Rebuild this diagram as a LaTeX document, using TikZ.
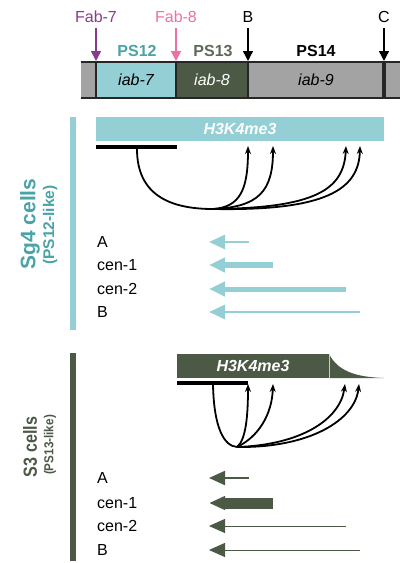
\documentclass[tikz,border=0pt]{standalone}
\usepackage{fontspec}
\usepackage{graphicx}
\setmainfont{Liberation Sans}
\usetikzlibrary{arrows.meta}
\definecolor{tealbar}{HTML}{93CFD4}
\definecolor{tealtxt}{HTML}{4AA3A6}
\definecolor{olivebar}{HTML}{4B5945}
\definecolor{olivetxt}{HTML}{5B6B58}
\definecolor{graybar}{HTML}{A3A3A3}
\definecolor{darkline}{HTML}{262626}
\definecolor{fabpurple}{HTML}{8A3A8C}
\definecolor{fabpink}{HTML}{EC6FA9}
\begin{document}
\begin{tikzpicture}[x=1pt,y=-1pt,
  txt/.style={font=\fontsize{16}{18}\selectfont, inner sep=0pt},
  toplab/.style={font=\fontsize{16}{18}\selectfont, inner xsep=1pt, inner ysep=5pt, text height=11.5pt, text depth=0pt},
  pslab/.style={font=\fontsize{16}{18}\selectfont\bfseries, inner sep=0pt},
  iablab/.style={font=\fontsize{16}{18}\selectfont\itshape, inner sep=0pt},
  topar/.style={line width=1.4pt, -{Triangle[length=10pt,width=10pt]}},
  hbar/.style={rectangle, inner sep=0pt, text=white, font=\fontsize{16}{18}\selectfont\bfseries\itshape},
  loop/.style={line width=1.8pt, -{Stealth[length=8pt,width=6pt]}},
  rowlab/.style={font=\fontsize{16}{18}\selectfont, anchor=west, inner sep=0pt},
  rowar/.style={-{Triangle[length=16pt,width=14pt]}},
  divider/.style={darkline, line width=2pt},
]
\useasboundingbox (0,0) rectangle (400,563);

% ---------- top locus bar ----------
\fill[graybar] (81,61) rectangle (400,99);
\fill[tealbar] (96,61) rectangle (176,99);
\fill[olivebar] (176,61) rectangle (248,99);
\draw[darkline, line width=2.5pt] (81,62) -- (400,62);
\draw[darkline, line width=2.5pt] (81,98) -- (400,98);
\draw[divider] (96,61) -- (96,99);
\draw[divider] (176,61) -- (176,99);
\draw[divider] (248,61) -- (248,99);
\draw[darkline, line width=4pt] (384,61) -- (384,99);

\node[iablab] (iab7) at (136,80) {iab-7};
\node[iablab, text=white] (iab8) at (212,80) {iab-8};
\node[iablab] (iab9) at (316,80) {iab-9};

\node[pslab, text=tealtxt] (ps12) at (137,51) {PS12};
\node[pslab, text=olivetxt] (ps13) at (213,51) {PS13};
\node[pslab] (ps14) at (316,51) {PS14};

\node[toplab, text=fabpurple] (fab7) at (96,17) {Fab-7};
\node[toplab, text=fabpink] (fab8) at (176,17) {Fab-8};
\node[toplab] (bb) at (248,17) {B};
\node[toplab] (cc) at (384,17) {C};
\coordinate (f7) at (96,61);
\coordinate (f8) at (176,61);
\coordinate (fb) at (248,61);
\coordinate (fc) at (384,61);
\draw[topar, fabpurple] (fab7) -- (f7);
\draw[topar, fabpink] (fab8) -- (f8);
\draw[topar] (bb) -- (fb);
\draw[topar] (cc) -- (fc);

% ---------- Sg4 cells ----------
\fill[tealbar] (70,117) rectangle (76,330);
\node[rotate=90, text=tealtxt, font=\fontsize{21}{24}\selectfont\bfseries] (sg4) at (30,224) {Sg4 cells};
\node[rotate=90, text=tealtxt, font=\fontsize{15.5}{18}\selectfont\bfseries] (sg4b) at (50,225) {(PS12-like)};

\node[hbar, fill=tealbar, minimum width=288pt, minimum height=24pt] (h1) at (240,129) {H3K4me3};
\coordinate (l1a) at (96,147);
\coordinate (l1b) at (177,147);
\draw[line width=4.5pt] (l1a) -- (l1b);
\coordinate (s1) at (137,149);
\coordinate (b1) at (213,209);
\coordinate (t1a) at (248,146);
\coordinate (t1b) at (273,146);
\coordinate (t1c) at (346,146);
\coordinate (t1d) at (360,146);
\draw[line width=1.8pt] (s1) .. controls (137,195) and (170,209) .. (b1);
\draw[loop] (b1) .. controls (240,207) and (248,190) .. (t1a);
\draw[loop] (b1) .. controls (258,207) and (273,192) .. (t1b);
\draw[loop] (b1) .. controls (315,208) and (344,190) .. (t1c);
\draw[loop] (b1) .. controls (325,211) and (359,190) .. (t1d);

\node[rowlab] (ra1) at (97,242) {A};
\node[rowlab] (rc1) at (97,265) {cen-1};
\node[rowlab] (rd1) at (97,289) {cen-2};
\node[rowlab] (rb1) at (97,312) {B};
\coordinate (a1s) at (249,242); \coordinate (a1e) at (209,242);
\coordinate (c1s) at (273,265); \coordinate (c1e) at (209,265);
\coordinate (d1s) at (346,289); \coordinate (d1e) at (209,289);
\coordinate (e1s) at (360,312); \coordinate (e1e) at (209,312);
\draw[rowar, tealbar, line width=2.7pt] (a1s) -- (a1e);
\draw[rowar, tealbar, line width=6pt] (c1s) -- (c1e);
\draw[rowar, tealbar, line width=5pt] (d1s) -- (d1e);
\draw[rowar, tealbar, line width=2.7pt] (e1s) -- (e1e);

% ---------- S3 cells ----------
\fill[olivebar] (70,353) rectangle (76,561);
\node[rotate=90, text=olivebar, font=\fontsize{19}{22}\selectfont\bfseries] (s3) at (30,447) {\scalebox{0.85}[1]{S3 cells}};
\node[rotate=90, text=olivebar, font=\fontsize{13}{15}\selectfont\bfseries] (s3b) at (50,445) {\scalebox{0.9}[1]{(PS13-like)}};

\fill[olivebar] (329,354) .. controls (338,371) and (355,377) .. (384,378) -- (329,378) -- cycle;
\node[hbar, fill=olivebar, minimum width=152pt, minimum height=24pt] (h2) at (253,366) {H3K4me3};
\draw[white!70!olivebar, line width=0.6pt] (h2.north east) -- (h2.south east);
\coordinate (l2a) at (177,383);
\coordinate (l2b) at (248,383);
\draw[line width=4.5pt] (l2a) -- (l2b);
\coordinate (s2) at (213,385);
\coordinate (b2) at (237,447);
\coordinate (t2a) at (248,384);
\coordinate (t2b) at (273,384);
\coordinate (t2c) at (345,384);
\coordinate (t2d) at (359,384);
\draw[line width=1.8pt] (s2) .. controls (214,428) and (224,446) .. (b2);
\draw[loop] (b2) .. controls (246,440) and (248,415) .. (t2a);
\draw[loop] (b2) .. controls (258,437) and (272,415) .. (t2b);
\draw[loop] (b2) .. controls (300,445) and (340,420) .. (t2c);
\draw[loop] (b2) .. controls (310,448) and (355,420) .. (t2d);

\node[rowlab] (ra2) at (97,478) {A};
\node[rowlab] (rc2) at (97,503) {cen-1};
\node[rowlab] (rd2) at (97,526) {cen-2};
\node[rowlab] (rb2) at (97,550) {B};
\coordinate (a2s) at (249,478); \coordinate (a2e) at (209,478);
\coordinate (c2s) at (273,503); \coordinate (c2e) at (209,503);
\coordinate (d2s) at (346,526); \coordinate (d2e) at (209,526);
\coordinate (e2s) at (360,550); \coordinate (e2e) at (209,550);
\draw[rowar, olivebar, line width=2.2pt] (a2s) -- (a2e);
\draw[-{Triangle[length=16pt,width=13pt]}, olivebar, line width=11pt] (c2s) -- (c2e);
\draw[rowar, olivebar, line width=1pt] (d2s) -- (d2e);
\draw[rowar, olivebar, line width=1pt] (e2s) -- (e2e);
\end{tikzpicture}
\end{document}
